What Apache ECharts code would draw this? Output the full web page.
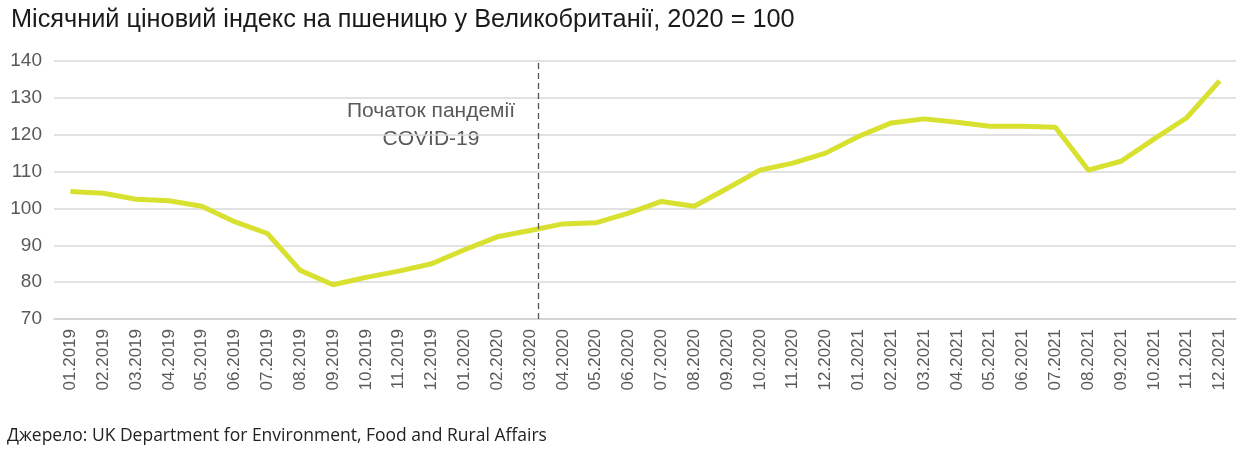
<!DOCTYPE html>
<html><head><meta charset="utf-8">
<script src="https://cdn.jsdelivr.net/npm/echarts@6/dist/echarts.min.js"></script>
<style>html,body{margin:0;padding:0;background:#fff}#c{width:1248px;height:450px}</style>
</head><body><div id="c"></div>
<script>
const categories = ['01.2019','02.2019','03.2019','04.2019','05.2019','06.2019','07.2019','08.2019','09.2019','10.2019','11.2019','12.2019',
'01.2020','02.2020','03.2020','04.2020','05.2020','06.2020','07.2020','08.2020','09.2020','10.2020','11.2020','12.2020',
'01.2021','02.2021','03.2021','04.2021','05.2021','06.2021','07.2021','08.2021','09.2021','10.2021','11.2021','12.2021'];
const priceIndex = [104.6,104.1,102.5,102.1,100.6,96.4,93.2,83.2,79.3,81.3,83.0,85.0,
88.8,92.3,94.0,95.8,96.1,98.7,101.9,100.6,105.4,110.4,112.3,115.0,
119.5,123.2,124.3,123.4,122.3,122.3,122.0,110.4,112.8,118.8,124.6,134.6];
const yTicks = {min:70, max:140, interval:10};
const covidStartPos = 14.25; // position of the COVID-19 marker along the month index (03.2020)

const chart = echarts.init(document.getElementById('c'));
chart.setOption({
  animation:false,
  title:{text:'Місячний ціновий індекс на пшеницю у Великобританії, 2020 = 100',left:6,top:3,
    textStyle:{fontFamily:'Liberation Sans',fontSize:25.3,fontWeight:'normal',color:'#1a1a1a'}},
  grid:{left:54,right:12,top:61,bottom:131},
  xAxis:[{type:'category',data:categories,boundaryGap:true,
    axisLine:{lineStyle:{color:'#d0d0d0',width:1.5}},
    axisTick:{inside:true,length:5,lineStyle:{color:'#bfbfbf'}},
    axisLabel:{rotate:90,fontFamily:'Liberation Sans',fontSize:17,color:'#595959',margin:10,interval:0}},
    {type:'value',show:false,min:-0.5,max:categories.length-0.5,position:'bottom'}],
  yAxis:{type:'value',min:yTicks.min,max:yTicks.max,interval:yTicks.interval,
    axisLine:{show:false},axisTick:{show:false},
    splitLine:{lineStyle:{color:'#d9d9d9',width:1.5}},
    axisLabel:{fontFamily:'Liberation Sans',fontSize:19,color:'#595959',margin:12}},
  series:[
    {type:'line',data:[],xAxisIndex:1,symbol:'none',
      markLine:{silent:true,symbol:'none',label:{show:false},
        lineStyle:{color:'#555',type:[6,4],width:1.3},
        data:[{xAxis:covidStartPos}]}},
    {type:'line',data:priceIndex,symbol:'none',smooth:false,
    lineStyle:{color:'#d8e030',width:5}}],
  graphic:[
    {type:'text',x:431,y:97,style:{text:'Початок пандемії\nCOVID-19',align:'center',verticalAlign:'top',
      fontFamily:'Liberation Sans',fontSize:21,lineHeight:28,fill:'#595959'}},
    {type:'text',left:7,top:427,style:{text:'Джерело: UK Department for Environment, Food and Rural Affairs',
      fontFamily:'Open Sans',fontSize:17.5,fill:'#222'}}
  ]
});
</script></body></html>
